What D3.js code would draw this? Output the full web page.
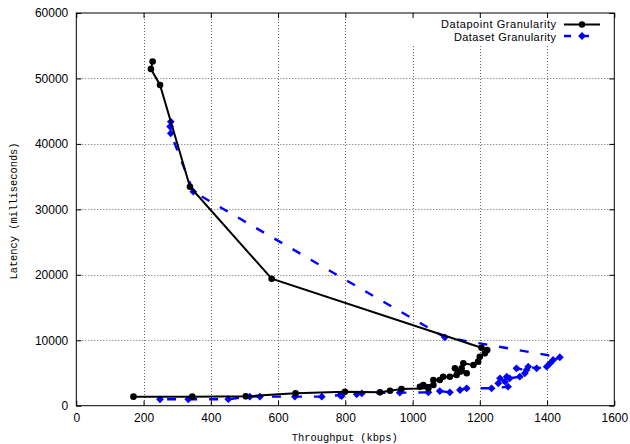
<!DOCTYPE html>
<html>
<head>
<meta charset="utf-8">
<script src="https://cdn.jsdelivr.net/npm/d3@7"></script>
<style>
  html, body { margin: 0; padding: 0; background: #fff; }
  svg { display: block; }
</style>
</head>
<body>
<script>
// ---- Data ----
const xTicks = [0, 200, 400, 600, 800, 1000, 1200, 1400, 1600];
const yTicks = [0, 10000, 20000, 30000, 40000, 50000, 60000];
const xLabel = "Throughput (kbps)";
const yLabel = "Latency (milliseconds)";
const seriesNames = ["Datapoint Granularity", "Dataset Granularity"];

const datapointThroughput = [227, 222, 249, 338, 581, 1205, 1222, 1215, 1200, 1195, 1181, 1151, 1146, 1161, 1141, 1126, 1131, 1111, 1091, 1081, 1062, 1062, 1032, 1022, 1047, 967, 933, 903, 799, 652, 504, 345, 170];
const datapointLatency    = [52600, 51440, 49000, 33460, 19400, 8860, 8510, 8000, 7490, 6730, 6220, 6480, 5710, 4950, 5200, 5710, 4690, 4430, 4430, 3930, 3930, 3160, 3160, 2900, 2660, 2550, 2290, 2040, 2140, 1890, 1430, 1380, 1380];

const datasetThroughput = [281, 279, 281, 348, 1096, 1438, 1418, 1409, 1399, 1369, 1344, 1339, 1309, 1334, 1319, 1289, 1280, 1260, 1275, 1255, 1284, 1235, 1161, 1141, 1111, 1081, 1047, 962, 849, 834, 789, 784, 730, 650, 546, 516, 452, 333, 249];
const datasetLatency    = [43400, 42640, 41620, 32700, 10450, 7400, 6980, 6480, 5960, 5710, 5960, 5450, 5710, 4950, 4430, 4180, 4430, 4180, 3670, 3420, 2900, 2660, 2660, 2400, 2040, 2240, 2040, 1990, 1890, 1740, 1480, 1630, 1380, 1380, 1380, 1380, 1000, 980, 980];

// ---- Layout ----
const W = 630, H = 444;
const L = 76.3, R = 614.3, T = 13, B = 405.7;
const svg = d3.select("body").append("svg").attr("width", W).attr("height", H);
svg.append("rect").attr("width", W).attr("height", H).attr("fill", "#fff");

const x = d3.scaleLinear().domain([0, 1600]).range([L, R]);
const y = d3.scaleLinear().domain([0, 60000]).range([B, T]);

const tickFont = "'Liberation Sans', Arial, Helvetica, sans-serif";
const monoFont = "'Liberation Mono', 'Courier New', monospace";
const diamond = "M0,-3.9L3.9,0L0,3.9L-3.9,0Z";

// grid
const gridX = xTicks.filter(v => v > 0 && v < 1600);
const gridY = yTicks.filter(v => v > 0 && v < 60000);
const grid = svg.append("g");
grid.selectAll("line.gx").data(gridX).join("line")
  .attr("x1", d => Math.round(x(d)) + 0.5).attr("x2", d => Math.round(x(d)) + 0.5)
  .attr("y1", T).attr("y2", B)
  .attr("stroke", "#666").attr("stroke-width", 1).attr("stroke-dasharray", "1,2");
grid.selectAll("line.gy").data(gridY).join("line")
  .attr("y1", d => Math.round(y(d)) + 0.5).attr("y2", d => Math.round(y(d)) + 0.5)
  .attr("x1", L).attr("x2", R)
  .attr("stroke", "#666").attr("stroke-width", 1).attr("stroke-dasharray", "1,2");

// legend box (opaque, hides grid)
svg.append("rect").attr("x", 400).attr("y", T + 1).attr("width", R - 401).attr("height", 31).attr("fill", "#fff");

// series
const dp = datapointThroughput.map((v, i) => [v, datapointLatency[i]]);
const ds = datasetThroughput.map((v, i) => [v, datasetLatency[i]]);
const line = d3.line().x(d => x(d[0])).y(d => y(d[1]));

svg.append("path").datum(ds).attr("d", line)
  .attr("fill", "none").attr("stroke", "#0000ff").attr("stroke-width", 2.4)
  .attr("stroke-dasharray", "9,12");
svg.append("g").selectAll("path").data(ds).join("path")
  .attr("d", diamond)
  .attr("transform", d => `translate(${x(d[0])},${y(d[1])})`)
  .attr("fill", "#0000ff");

svg.append("path").datum(dp).attr("d", line)
  .attr("fill", "none").attr("stroke", "#000").attr("stroke-width", 2);
svg.append("g").selectAll("circle").data(dp).join("circle")
  .attr("cx", d => x(d[0])).attr("cy", d => y(d[1])).attr("r", 3.3)
  .attr("fill", "#000");

// axes (ticks inward, mirrored)
const axB = svg.append("g").attr("transform", `translate(0,${B})`)
  .call(d3.axisBottom(x).tickValues(xTicks).tickSize(-5).tickPadding(8).tickFormat(d3.format("d")));
const axL = svg.append("g").attr("transform", `translate(${L},0)`)
  .call(d3.axisLeft(y).tickValues(yTicks).tickSize(-5).tickPadding(8).tickFormat(d3.format("d")));
const axT = svg.append("g").attr("transform", `translate(0,${T})`)
  .call(d3.axisTop(x).tickValues(xTicks).tickSize(-5).tickFormat(""));
const axR = svg.append("g").attr("transform", `translate(${R},0)`)
  .call(d3.axisRight(y).tickValues(yTicks).tickSize(-5).tickFormat(""));
[axB, axL, axT, axR].forEach(a => {
  a.select(".domain").remove();
  a.selectAll("line").attr("stroke", "#000");
  a.selectAll("text").attr("font-family", tickFont).attr("font-size", 12).attr("fill", "#000");
});

// border
svg.append("rect").attr("x", L).attr("y", T).attr("width", R - L).attr("height", B - T)
  .attr("fill", "none").attr("stroke", "#000").attr("stroke-width", 1);

// axis labels
svg.append("text").attr("x", (L + R) / 2 - 0.5).attr("y", 440.5)
  .attr("text-anchor", "middle").attr("font-family", monoFont).attr("font-size", 10.4)
  .text(xLabel);
svg.append("text").attr("transform", `translate(16.5,${211}) rotate(-90)`)
  .attr("text-anchor", "middle").attr("font-family", monoFont).attr("font-size", 10.4)
  .text(yLabel);

// legend
const leg = svg.append("g");
const legY = [24.5, 36];
leg.append("text").attr("x", 556).attr("y", 28.2).attr("text-anchor", "end")
  .attr("font-family", tickFont).attr("font-size", 11)
  .attr("textLength", 115).attr("lengthAdjust", "spacing").text(seriesNames[0]);
leg.append("text").attr("x", 556).attr("y", 40.5).attr("text-anchor", "end")
  .attr("font-family", tickFont).attr("font-size", 11)
  .attr("textLength", 102).attr("lengthAdjust", "spacing").text(seriesNames[1]);
leg.append("line").attr("x1", 564).attr("x2", 600).attr("y1", legY[0]).attr("y2", legY[0])
  .attr("stroke", "#000").attr("stroke-width", 2);
leg.append("circle").attr("cx", 582).attr("cy", legY[0]).attr("r", 3.2).attr("fill", "#000");
leg.append("line").attr("x1", 564).attr("x2", 600).attr("y1", legY[1]).attr("y2", legY[1])
  .attr("stroke", "#0000ff").attr("stroke-width", 2.4).attr("stroke-dasharray", "7,11");
leg.append("path").attr("d", diamond)
  .attr("transform", `translate(582,${legY[1]})`).attr("fill", "#0000ff");
</script>
</body>
</html>
